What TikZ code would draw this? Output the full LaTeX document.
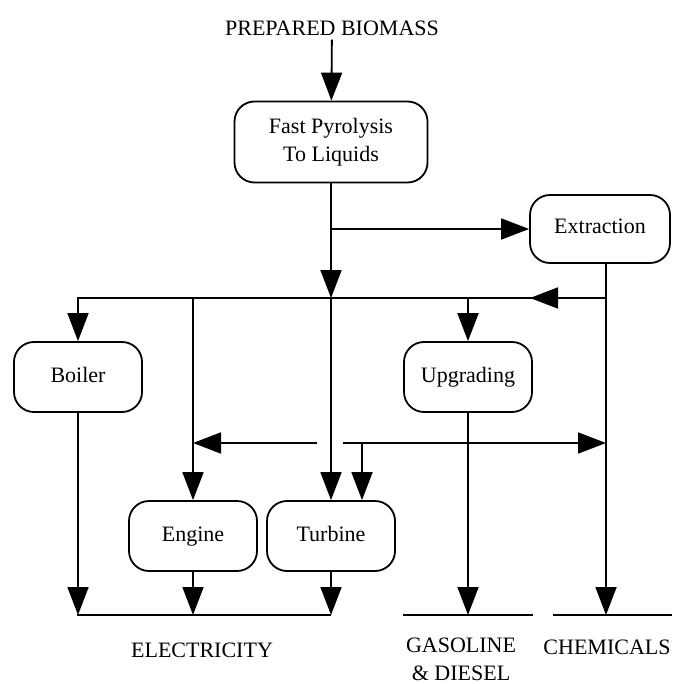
\documentclass[tikz,border=0pt]{standalone}
\usepackage{fontspec}
\setmainfont{Liberation Serif}
\usetikzlibrary{arrows.meta}
\begin{document}
\begin{tikzpicture}[x=1pt, y=1pt, line width=1.8pt,
    every node/.style={font=\fontsize{22}{28}\selectfont},
    unit/.style={draw, rounded corners=20pt, minimum width=128pt, minimum height=70pt, text height=15pt, text depth=5pt},
    flow/.style={-{Triangle[length=28pt, width=21pt]}}]
    \useasboundingbox (0,0) rectangle (677,-684);
    % products and process units
    \node (biomass) at (332,-28) {PREPARED BIOMASS};
    \node[unit, minimum width=193pt, minimum height=81pt, align=center, text height=, text depth=] (pyro) at (331,-142) {Fast Pyrolysis\\To Liquids};
    \node[unit, minimum width=140pt, minimum height=68pt] (extract) at (600,-229) {Extraction};
    \node[unit] (boiler) at (78,-377) {Boiler};
    \node[unit] (upgrade) at (468,-377) {Upgrading};
    \node[unit] (engine) at (193,-536) {Engine};
    \node[unit] (turbine) at (331,-536) {Turbine};
    \node (elec) at (202,-650) {ELECTRICITY};
    \node[align=center, inner sep=1pt] (fuel) at (461,-659) {GASOLINE\\\& DIESEL};
    \node (chem) at (607,-647) {CHEMICALS};
    % junctions
    \coordinate (split) at (331,-229);
    \coordinate (hub) at (331,-298);
    \coordinate (xout) at ([xshift=6pt]extract.south);
    \coordinate (xjoin) at (606,-298);
    \coordinate (gapL) at (317,-443);
    \coordinate (gapR) at (343,-443);
    \coordinate (tin) at ([xshift=31pt]turbine.north);
    \coordinate (eL) at (77,-615);
    \coordinate (eR) at (331,-615);
    \coordinate (gL) at (403,-615);
    \coordinate (gR) at (533,-615);
    \coordinate (cL) at (553,-615);
    \coordinate (cR) at (672,-615);
    % connectors
    \draw[flow] (biomass) -- (pyro);
    \draw (pyro) -- (split);
    \draw[flow] (split) -- (split -| extract.west);
    \draw[flow] (split) -- (hub);
    \draw[flow] (xout) -- (cL -| xout);
    \draw[flow] (xjoin) -- ++(-76,0);
    \draw[flow] (xjoin) -| (boiler);
    \draw[flow] (hub -| upgrade) -- (upgrade);
    \draw[flow] (hub -| engine) -- (engine);
    \draw[flow] (hub) -- (turbine);
    \draw[flow] (gapL) -- (gapL -| engine);
    \draw[flow] (gapR) -- (gapR -| xjoin);
    \draw[flow] (gapR -| tin) -- (tin);
    \draw[flow] (boiler) -- (boiler |- eL);
    \draw[flow] (engine) -- (engine |- eL);
    \draw[flow] (turbine) -- (eR);
    \draw[flow] (upgrade) -- (upgrade |- gL);
    \draw (eL) -- (eR);
    \draw (gL) -- (gR);
    \draw (cL) -- (cR);
\end{tikzpicture}
\end{document}
